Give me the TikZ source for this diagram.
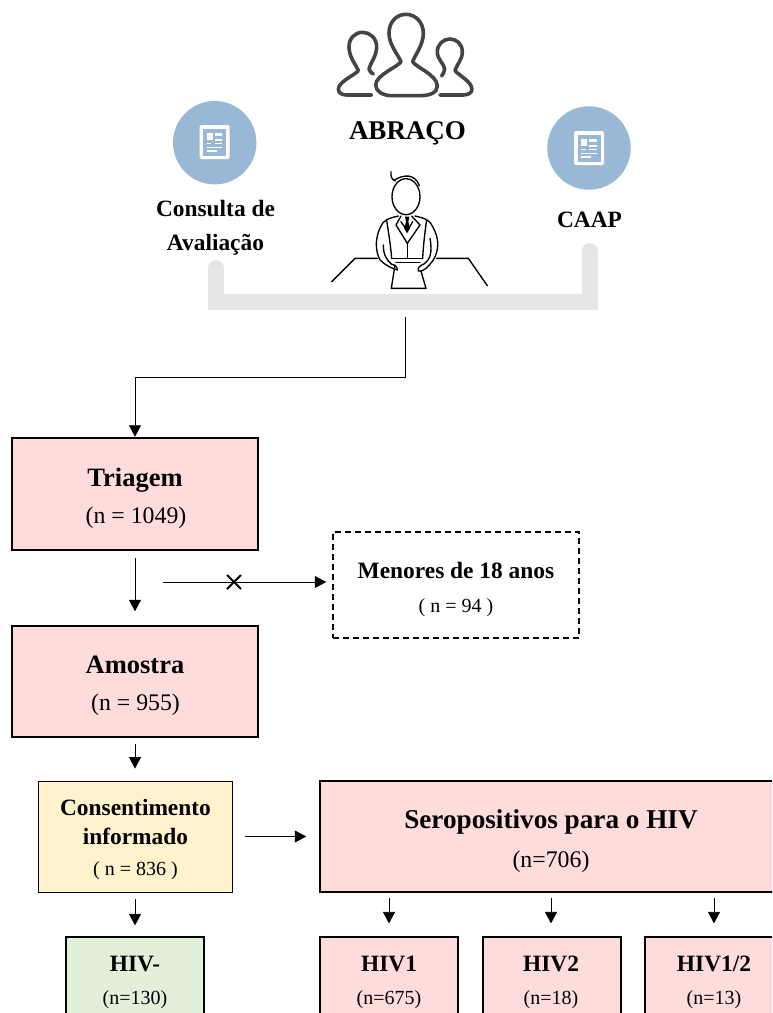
\documentclass[tikz,border=0pt]{standalone}
\usepackage{fontspec}
\setmainfont{Liberation Serif}
\usetikzlibrary{arrows.meta}
\definecolor{pinkbox}{HTML}{FFDCDC}
\definecolor{creambox}{HTML}{FFF2CC}
\definecolor{greenbox}{HTML}{E2EFDA}
\definecolor{iconblue}{HTML}{98B8D6}
\definecolor{traygray}{HTML}{E6E6E6}
\definecolor{peoplegray}{HTML}{444444}
\tikzset{
  pinkrect/.style={draw=black,line width=1.5pt,fill=pinkbox,rectangle,inner sep=0pt},
  smallrect/.style={draw=black,line width=1.2pt,inner sep=0pt,rectangle},
  titletext/.style={anchor=base,inner sep=0pt,font=\fontsize{26.5}{30}\selectfont\bfseries},
  midtext/.style={anchor=base,inner sep=0pt,font=\fontsize{23.4}{27}\selectfont\bfseries},
  counttext/.style={anchor=base,inner sep=0pt,font=\fontsize{23.8}{27}\selectfont},
  smallcount/.style={anchor=base,inner sep=0pt,font=\fontsize{20}{23}\selectfont},
  flow/.style={draw=black,line width=0.8pt,-{Triangle[length=11.5pt,width=12pt]}},
  sketch/.style={draw=black,line width=1.35pt,line cap=round,line join=round},
  person/.style={draw=peoplegray,line width=3.6pt,line cap=round,line join=round}
}
% sheet icon: a white rounded page with its text blocks in the disc colour
\newcommand{\sheeticon}[2]{%
  \begin{scope}[shift={(#1,#2)}]
    \fill[white,rounded corners=2pt] (-15,-17) rectangle (15,17);
    \fill[iconblue] (-11.5,-13.5) rectangle (11.5,13.5);
    \fill[white] (-8,-9.5) rectangle (-2,-2);
    \fill[white] (0,-9.5) rectangle (7.5,-6.3);
    \fill[white] (0,-3.2) rectangle (7.5,-1.5);
    \fill[white] (-8,0.7) rectangle (-3.5,2.4);
    \fill[white] (0,0.7) rectangle (7.5,2.4);
    \fill[white] (-8,4.5) rectangle (7.5,6);
    \fill[white] (-8,8) rectangle (2,9.7);
  \end{scope}}
\begin{document}
\begin{tikzpicture}[x=1pt,y=-1pt]
\useasboundingbox (0,0) rectangle (772,1013);
\clip (0,0) rectangle (772,1013);

% three-person emblem
\begin{scope}[shift={(320,0)},x=0.3333pt,y=-0.3333pt]
  \draw[person] (258,43) .. controls (285,43) and (310,65) .. (310,100) .. controls (310,135) and (285,165) .. (278,185) .. controls (285,200) and (352,225) .. (352,258) .. controls (352,278) and (330,287) .. (300,287) -- (215,287) .. controls (190,287) and (167,275) .. (167,255) .. controls (167,225) and (235,200) .. (243,185) .. controls (235,165) and (207,135) .. (207,100) .. controls (207,65) and (230,43) .. (258,43) -- cycle;
  \draw[person] (155,285) -- (80,285) .. controls (65,285) and (55,278) .. (55,268) .. controls (55,245) and (105,225) .. (115,212) .. controls (105,190) and (87,170) .. (87,140) .. controls (87,115) and (105,97) .. (128,97) .. controls (150,97) and (170,115) .. (170,140) .. controls (170,170) and (150,190) .. (147,207) .. controls (147,215) and (155,218) .. (160,222);
  \draw[person] (360,285) -- (430,285) .. controls (445,285) and (456,278) .. (456,268) .. controls (456,245) and (415,225) .. (405,212) .. controls (412,190) and (427,180) .. (427,155) .. controls (427,133) and (410,117) .. (390,117) .. controls (370,117) and (352,133) .. (352,155) .. controls (352,180) and (372,190) .. (374,207) .. controls (374,217) and (368,222) .. (365,228);
\end{scope}

% seated figure at the desk
\begin{scope}[shift={(320,165)},x=0.3333pt,y=-0.3333pt]
  \draw[sketch] (258,95) ellipse [x radius=42,y radius=54];
  \draw[sketch] (213,20) .. controls (212,35) and (214,42) .. (226,48);
  \draw[sketch] (222,46) .. controls (250,28) and (285,25) .. (298,62);
  \draw[sketch] (35,350) -- (105,280) -- (172,280);
  \draw[sketch] (350,280) -- (445,280) -- (502,362);
  \draw[sketch] (235,153) .. controls (205,160) and (190,165) .. (182,185) .. controls (165,220) and (165,255) .. (180,285) .. controls (195,300) and (215,310) .. (232,315) .. controls (232,305) and (225,300) .. (215,298) .. controls (200,285) and (190,270) .. (190,240);
  \draw[sketch] (285,153) .. controls (315,160) and (330,165) .. (338,185) .. controls (358,220) and (358,255) .. (340,285) .. controls (325,305) and (310,322) .. (295,318) .. controls (292,308) and (300,302) .. (310,298) .. controls (330,285) and (338,265) .. (330,220);
  \draw[sketch] (200,165) .. controls (205,200) and (212,240) .. (215,280);
  \draw[sketch] (320,165) .. controls (315,200) and (310,240) .. (308,280);
  \draw[sketch] (243,153) -- (228,180) -- (262,235) -- (300,180) -- (275,153);
  \draw[sketch] (243,170) -- (262,198) -- (278,170);
  \draw[sketch] (262,235) -- (262,280);
  \fill (255,155) -- (268,155) -- (265,170) -- (270,190) -- (261,205) -- (253,190) -- (258,170) -- cycle;
  \draw[sketch] (215,280) -- (308,280);
  \draw[sketch] (228,292) -- (300,292);
  \draw[sketch] (225,300) -- (214,370) -- (318,370) -- (303,318);
\end{scope}

% document discs
\fill[iconblue] (214.7,142.7) circle (41.7);
\sheeticon{214.7}{142}
\fill[iconblue] (589,148) circle (41.7);
\sheeticon{589}{148}

% grey tray under the desk
\draw[traygray,line width=16pt,line cap=round,line join=miter] (216,268) -- (216,302) -- (590,302) -- (590,251);
\coordinate (trayout) at (405,317);
\coordinate (elbow) at (405,377);

\node[anchor=base,inner sep=0pt,font=\fontsize{27}{30}\selectfont\bfseries] (abraco) at (407.5,139) {ABRAÇO};
\node[midtext] (consulta) at (215.5,216) {Consulta de};
\node[midtext] (avaliacao) at (215.5,250) {Avaliação};
\node[midtext] (caap) at (589.5,227) {CAAP};

% flow boxes
\node[pinkrect,minimum width=246pt,minimum height=112pt] (triagem) at (135,494) {};
\node[titletext] (triagemt) at (135,486) {Triagem};
\node[counttext] (triagemn) at (136,523) {(n = 1049)};

\node[pinkrect,minimum width=246pt,minimum height=111pt] (amostra) at (135,681.5) {};
\node[titletext] (amostrat) at (135,673) {Amostra};
\node[counttext] (amostran) at (135.5,710) {(n = 955)};

\node[draw=black,line width=1.5pt,dash pattern=on 6pt off 4pt,rectangle,inner sep=0pt,minimum width=246pt,minimum height=106pt] (menores) at (456,585) {};
\node[midtext] (menorest) at (456,578) {Menores de 18 anos};
\node[anchor=base,inner sep=0pt,font=\fontsize{20}{23}\selectfont] (menoresn) at (456,612) {( n = 94 )};

\node[smallrect,line width=0.8pt,fill=creambox,minimum width=194pt,minimum height=111pt] (consent) at (135,836.5) {};
\node[midtext] (consentt) at (135.5,815) {Consentimento};
\node[midtext] (consenti) at (135.5,844) {informado};
\node[smallcount] (consentn) at (135.5,875) {( n = 836 )};

\node[pinkrect,minimum width=458pt,minimum height=111pt] (sero) at (549,836.5) {};
\node[titletext,font=\fontsize{27.2}{30}\selectfont\bfseries] (serot) at (551,828) {Seropositivos para o HIV};
\node[counttext] (seron) at (551,867) {(n=706)};

\node[smallrect,fill=greenbox,minimum width=138pt,minimum height=90pt] (hivneg) at (135,982) {};
\node[midtext] (hivnegt) at (135,971) {HIV-};
\node[smallcount] (hivnegn) at (135,1004) {(n=130)};

\node[smallrect,fill=pinkbox,minimum width=138pt,minimum height=90pt] (hivone) at (389,982) {};
\node[midtext] (hivonet) at (389,971) {HIV1};
\node[smallcount] (hivonen) at (389,1004) {(n=675)};

\node[smallrect,fill=pinkbox,minimum width=138pt,minimum height=90pt] (hivtwo) at (552,982) {};
\node[midtext] (hivtwot) at (551,971) {HIV2};
\node[smallcount] (hivtwon) at (551,1004) {(n=18)};

\node[smallrect,fill=pinkbox,minimum width=138pt,minimum height=90pt] (hivboth) at (714,982) {};
\node[midtext] (hivbotht) at (714,971) {HIV1/2};
\node[smallcount] (hivbothn) at (714,1004) {(n=13)};

% connectors
\draw[flow,shorten >=0.5pt] (trayout) -- (elbow) -- (elbow -| triagem.north) -- (triagem.north);
\draw[flow,shorten <=7pt,shorten >=14pt] (triagem.south) -- (amostra.north);
\coordinate (rejectstart) at (163,582);
\coordinate (crossmark) at (234,582);
\draw[flow,shorten >=6pt] (rejectstart) -- (rejectstart -| menores.west);
\draw[black,line width=1.9pt] ([shift={(-7,-7)}]crossmark) -- ([shift={(7,7)}]crossmark);
\draw[black,line width=1.9pt] ([shift={(-7,7)}]crossmark) -- ([shift={(7,-7)}]crossmark);
\draw[flow,shorten <=6pt,shorten >=12pt] (amostra.south) -- (consent.north);
\draw[flow,shorten <=7pt,shorten >=11pt] (consent.south) -- (hivneg.north);
\draw[flow,shorten <=13pt,shorten >=13pt] (consent.east) -- (sero.west);
\draw[flow,shorten <=5pt,shorten >=13pt] (hivone |- sero.south) -- (hivone.north);
\draw[flow,shorten <=5pt,shorten >=13pt] (hivtwot |- sero.south) -- (hivtwot |- hivtwo.north);
\draw[flow,shorten <=5pt,shorten >=13pt] (hivboth |- sero.south) -- (hivboth.north);
\end{tikzpicture}
\end{document}
